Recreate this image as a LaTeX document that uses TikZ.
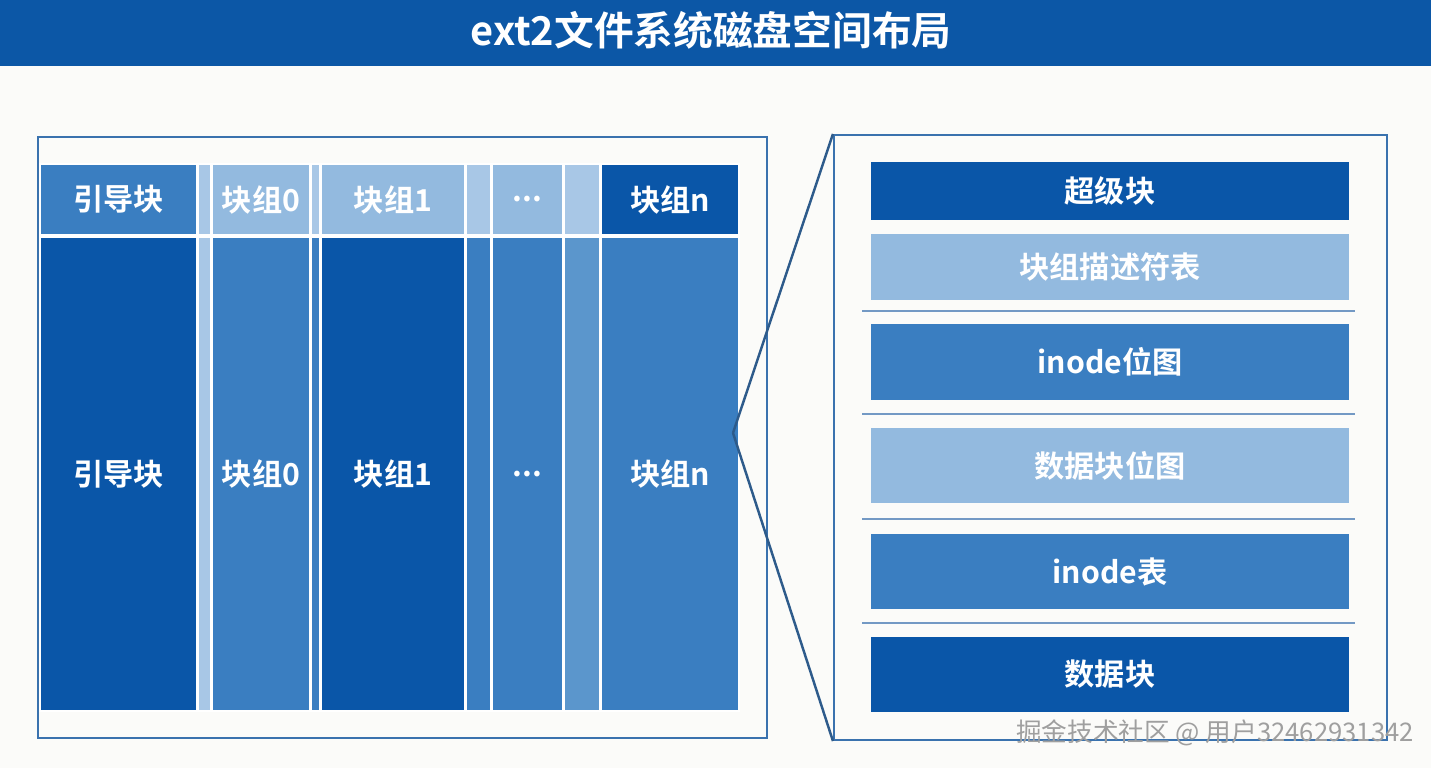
\documentclass[tikz,border=0pt]{standalone}
\usepackage{fontspec}
\setmainfont{Noto Sans CJK SC}[BoldFont={Noto Sans CJK SC Bold}]
\usepackage{tikz}
\usetikzlibrary{calc,positioning}
\definecolor{titlex}{HTML}{0C57A6}
\definecolor{darkx}{HTML}{0A56A8}
\definecolor{midx}{HTML}{3A7EC1}
\definecolor{lightx}{HTML}{93BADF}
\definecolor{palex}{HTML}{A8C7E6}
\definecolor{stripx}{HTML}{5B96CC}
\definecolor{framex}{HTML}{3A72AE}
\definecolor{sepx}{HTML}{7399C4}
\definecolor{pagex}{HTML}{FBFBF9}
\tikzset{
  cell/.style={draw=white,line width=0.5pt,inner sep=0pt,outer sep=0pt,text=white,font=\bfseries\fontsize{8.6}{10}\selectfont},
  top/.style={cell,minimum height=7.1mm},
  low/.style={cell,minimum height=47.4mm},
  bar/.style={cell,draw=none,minimum width=47.8mm,minimum height=7.5mm},
  frm/.style={draw=framex,line width=0.6pt,inner sep=0pt},
  sep/.style={sepx,line width=0.6pt},
  zm/.style={draw=framex!80!black,line width=0.7pt}
}
\begin{document}
\begin{tikzpicture}[x=0.1mm,y=-0.1mm]
\useasboundingbox (0,0) rectangle (1431,768);
\fill[pagex] (0,0) rectangle (1431,768);
\fill[titlex] (0,0) rectangle (1431,66);
\node[text=white,font=\bfseries\fontsize{11.3}{13}\selectfont] (title) at (711,30) {ext2文件系统磁盘空间布局};
% frames
\node[frm,minimum width=72.9mm,minimum height=60.1mm] (lframe) at (402.5,437.5) {};
\node[frm,minimum width=55.3mm,minimum height=60.5mm] (rframe) at (1110.5,437.5) {};
% top row
\node[top,fill=midx,minimum width=15.7mm] (boot) at (118.5,199.5) {引导块};
\node[top,fill=palex,minimum width=1.3mm] (gapa) at (204.5,199.5) {};
\node[top,fill=lightx,minimum width=9.8mm] (grpa) at (261,199.5) {块组0};
\node[top,fill=palex,minimum width=0.9mm] (gapb) at (315.5,199.5) {};
\node[top,fill=lightx,minimum width=14.4mm] (grpb) at (393,199.5) {块组1};
\node[top,fill=palex,minimum width=2.5mm] (gapc) at (478.5,199.5) {};
\node[top,fill=lightx,minimum width=7.1mm] (dots) at (527.5,199.5) {...};
\node[top,fill=palex,minimum width=3.6mm] (gapd) at (582,199.5) {};
\node[top,fill=darkx,minimum width=13.8mm] (grpn) at (670,199.5) {块组n};
% lower row
\node[low,fill=darkx,minimum width=15.7mm] (bootlow) at (118.5,474) {引导块};
\node[low,fill=palex,minimum width=1.3mm] (gapalow) at (204.5,474) {};
\node[low,fill=midx,minimum width=9.8mm] (grpalow) at (261,474) {块组0};
\node[low,fill=midx,minimum width=0.9mm] (gapblow) at (315.5,474) {};
\node[low,fill=darkx,minimum width=14.4mm] (grpblow) at (393,474) {块组1};
\node[low,fill=midx,minimum width=2.5mm] (gapclow) at (478.5,474) {};
\node[low,fill=midx,minimum width=7.1mm] (dotslow) at (527.5,474) {...};
\node[low,fill=stripx,minimum width=3.6mm] (gapdlow) at (582,474) {};
\node[low,fill=midx,minimum width=13.8mm] (grpnlow) at (670,474) {块组n};
% group detail
\node[bar,fill=darkx,minimum height=5.8mm] (sblk) at (1110,191) {超级块};
\node[bar,fill=lightx,minimum height=6.6mm] (gdt) at (1110,267) {块组描述符表};
\node[bar,fill=midx,minimum height=7.6mm] (ibmp) at (1110,362) {inode位图};
\node[bar,fill=lightx] (dbmp) at (1110,465.5) {数据块位图};
\node[bar,fill=midx] (itab) at (1110,571.5) {inode表};
\node[bar,fill=darkx] (dblk) at (1110,674.5) {数据块};
\draw[sep] (862,311) -- (1355,311);
\draw[sep] (862,414) -- (1355,414);
\draw[sep] (862,519) -- (1355,519);
\draw[sep] (862,623) -- (1355,623);
% zoom lines
\coordinate (zoompt) at (733,433);
\draw[zm] (zoompt) -- (rframe.north west);
\draw[zm] (zoompt) -- (rframe.south west);
\node[text=gray!75,font=\fontsize{7.3}{9}\selectfont] (mark) at (1215,733) {掘金技术社区 @ 用户32462931342};
\end{tikzpicture}
\end{document}
